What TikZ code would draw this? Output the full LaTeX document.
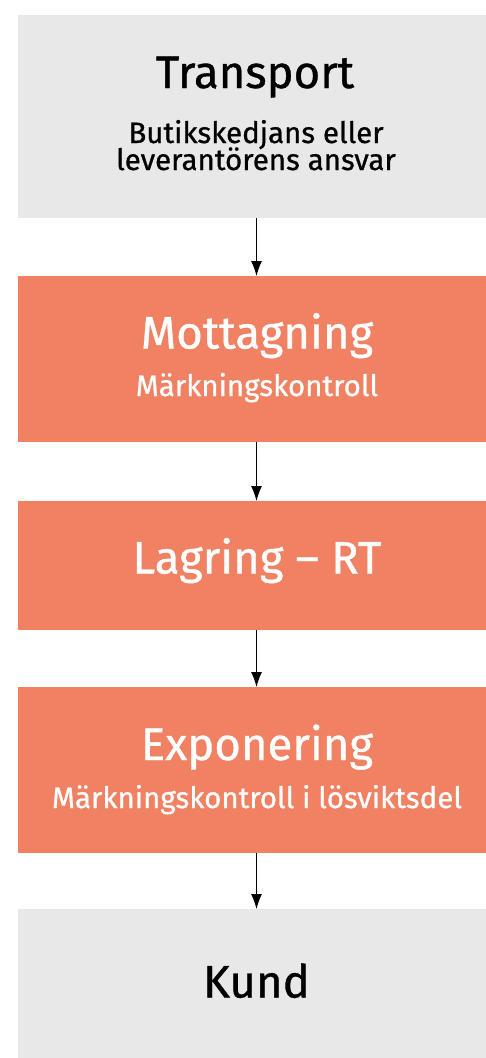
\documentclass[tikz,border=0pt]{standalone}
\usepackage{fontspec}
\setmainfont{Fira Sans}[UprightFeatures={FakeBold=0.8}]
\usetikzlibrary{arrows.meta}
\definecolor{boxgrey}{HTML}{E8E8E8}
\definecolor{boxorange}{HTML}{F08263}
\tikzset{
  greybox/.style={fill=boxgrey, draw=none, minimum width=477pt, inner sep=0pt, anchor=north},
  orangebox/.style={fill=boxorange, draw=none, minimum width=477pt, inner sep=0pt, anchor=north},
  title/.style={anchor=base, inner sep=0pt, font=\fontsize{45.5}{50}\selectfont},
  sub/.style={anchor=base, inner sep=0pt, font=\fontsize{29.5}{34}\selectfont},
  flow/.style={draw=black, line width=1.1pt, -{Latex[length=15pt,width=11pt]}}
}
\begin{document}
\begin{tikzpicture}[x=1pt,y=1pt]
\clip (0,0) rectangle (486,-1058);
\fill[white] (0,0) rectangle (486,-1058);
% boxes
\node[greybox, minimum height=203pt] (t) at (256.5,-15) {};
\node[orangebox, minimum height=166pt] (m) at (256.5,-276) {};
\node[orangebox, minimum height=129pt] (l) at (256.5,-501) {};
\node[orangebox, minimum height=166pt] (e) at (256.5,-687) {};
\node[greybox, minimum height=160pt] (k) at (256.5,-909) {};
% texts
\node[title, text=black] (t1) at (255,-88) {Transport};
\node[sub, text=black] (t2) at (256,-143) {Butikskedjans eller};
\node[sub, text=black] (t3) at (256,-170) {leverantörens ansvar};
\node[title, text=white] (m1) at (257,-348.5) {Mottagning};
\node[sub, text=white] (m2) at (257,-396) {Märkningskontroll};
\node[title, text=white] (l1) at (257,-573.5) {Lagring – RT};
\node[title, text=white] (e1) at (257,-760) {Exponering};
\node[sub, text=white] (e2) at (257,-808) {Märkningskontroll i lösviktsdel};
\node[title, text=black] (k1) at (256.5,-997.5) {Kund};
% arrows
\draw[flow] (t.south) -- (m.north);
\draw[flow] (m.south) -- (l.north);
\draw[flow] (l.south) -- (e.north);
\draw[flow] (e.south) -- (k.north);
\end{tikzpicture}
\end{document}
